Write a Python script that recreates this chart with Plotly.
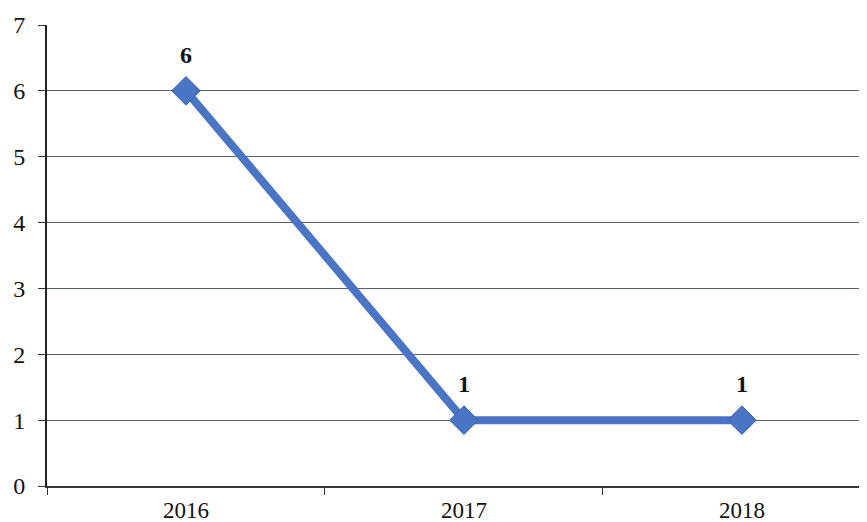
import plotly.graph_objects as go

years = ["2016", "2017", "2018"]
values = [6, 1, 1]
labels = ["6", "1", "1"]

fig = go.Figure()
fig.add_trace(go.Scatter(
    x=years, y=values, mode="lines+markers",
    line=dict(color="#4a74c4", width=8),
    marker=dict(symbol="diamond", size=22, color="#4a74c4",
                line=dict(color="#3a5ea8", width=1)),
    cliponaxis=False, showlegend=False,
))

for i, (yv, t) in enumerate(zip(values, labels)):
    fig.add_annotation(x=i, y=yv, text="<b>%s</b>" % t, showarrow=False,
                       yshift=36, font=dict(family="Liberation Serif", size=24, color="#111111"))

fig.update_layout(
    width=859, height=514,
    margin=dict(l=39, r=0, t=17, b=36),
    paper_bgcolor="white", plot_bgcolor="white",
    font=dict(family="Liberation Serif", size=24, color="#111111"),
    xaxis=dict(
        type="category", range=[-0.5, 2.45],
        showgrid=False, showline=True, linecolor="#333333", linewidth=1.5,
        ticks="outside", tickson="boundaries", ticklen=7, tickcolor="#333333",
        tickfont=dict(family="Liberation Serif", size=23),
        ticklabelstandoff=3,
    ),
    yaxis=dict(
        range=[0, 7], dtick=1, showgrid=True, gridcolor="#5a5f70", gridwidth=1,
        showline=True, linecolor="#222222", linewidth=2,
        ticks="outside", ticklen=7, tickcolor="#333333",
        tickfont=dict(family="Liberation Serif", size=24),
        ticklabelstandoff=8,
        zeroline=False,
    ),
)

fig.write_html("out.html")
